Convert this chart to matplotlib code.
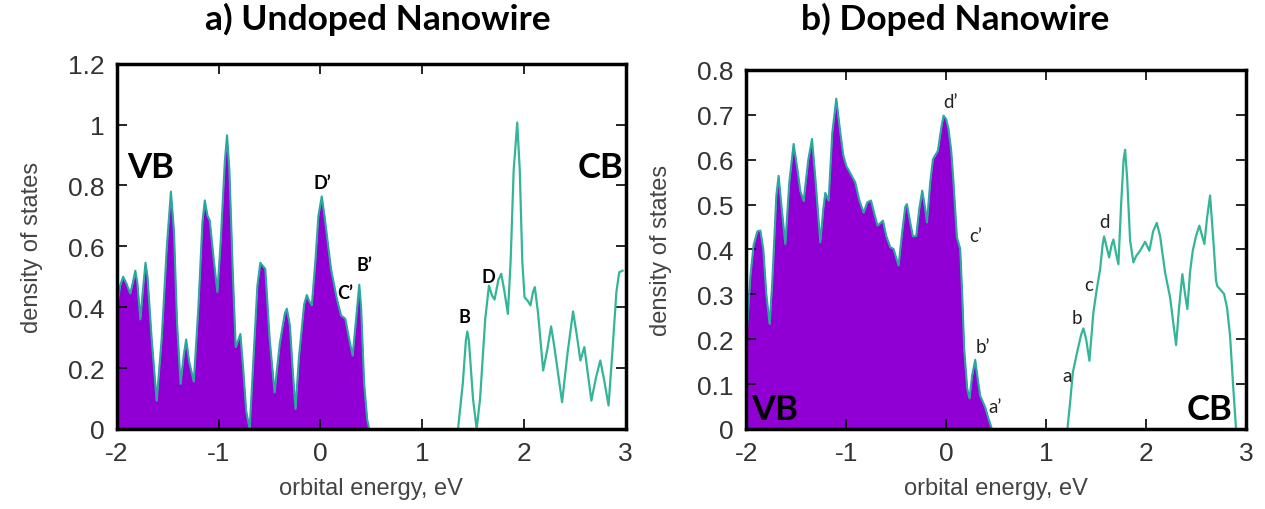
import matplotlib.pyplot as plt

# density of states (energy in eV)
vb_a_x = [-2.0, -1.97, -1.94, -1.91, -1.87, -1.845, -1.82, -1.80, -1.77, -1.75, -1.72, -1.70,
          -1.66, -1.61, -1.56, -1.51, -1.47, -1.44, -1.41, -1.375, -1.345, -1.32, -1.29,
          -1.245, -1.20, -1.16, -1.137, -1.11, -1.088, -1.05, -1.013, -0.98, -0.94, -0.918,
          -0.895, -0.86, -0.833, -0.81, -0.787, -0.76, -0.73, -0.696, -0.66, -0.62, -0.591,
          -0.565, -0.542, -0.50, -0.451, -0.40, -0.35, -0.33, -0.30, -0.27, -0.245, -0.21,
          -0.16, -0.134, -0.11, -0.085, -0.05, -0.02, 0.013, 0.04, 0.104, 0.16, 0.203, 0.245,
          0.28, 0.317, 0.35, 0.382, 0.40, 0.43, 0.46, 0.48]
vb_a_y = [0.40, 0.47, 0.50, 0.48, 0.445, 0.48, 0.52, 0.48, 0.36, 0.44, 0.546, 0.50,
          0.30, 0.093, 0.30, 0.60, 0.78, 0.65, 0.35, 0.148, 0.24, 0.294, 0.22,
          0.156, 0.40, 0.68, 0.751, 0.70, 0.685, 0.56, 0.45, 0.62, 0.88, 0.965,
          0.85, 0.50, 0.269, 0.29, 0.312, 0.20, 0.06, 0.0, 0.22, 0.47, 0.546,
          0.535, 0.526, 0.30, 0.12, 0.28, 0.38, 0.395, 0.34, 0.18, 0.066, 0.24,
          0.41, 0.44, 0.42, 0.406, 0.55, 0.70, 0.764, 0.70, 0.526, 0.43, 0.373, 0.362,
          0.30, 0.241, 0.36, 0.474, 0.40, 0.15, 0.03, 0.0]

cb_a_x = [1.353, 1.40, 1.43, 1.444, 1.46, 1.50, 1.536, 1.57, 1.62, 1.657, 1.685, 1.712,
          1.75, 1.778, 1.81, 1.843, 1.87, 1.90, 1.935, 1.96, 1.985, 2.007, 2.04, 2.065,
          2.09, 2.108, 2.14, 2.19, 2.23, 2.268, 2.30, 2.376, 2.43, 2.484, 2.52, 2.556,
          2.595, 2.63, 2.664, 2.71, 2.752, 2.79, 2.833, 2.87, 2.91, 2.938, 2.97]
cb_a_y = [0.0, 0.15, 0.29, 0.32, 0.29, 0.10, 0.0, 0.10, 0.36, 0.471, 0.44, 0.425,
          0.49, 0.51, 0.45, 0.378, 0.55, 0.85, 1.007, 0.85, 0.55, 0.433, 0.42, 0.406,
          0.45, 0.466, 0.38, 0.192, 0.26, 0.337, 0.27, 0.088, 0.25, 0.386, 0.31, 0.225,
          0.269, 0.18, 0.093, 0.17, 0.225, 0.16, 0.077, 0.25, 0.45, 0.515, 0.52]

vb_b_x = [-2.0, -1.96, -1.927, -1.89, -1.86, -1.83, -1.80, -1.767, -1.74, -1.70, -1.677,
          -1.65, -1.61, -1.57, -1.527, -1.49, -1.46, -1.427, -1.38, -1.343, -1.31, -1.26,
          -1.23, -1.21, -1.177, -1.14, -1.10, -1.06, -1.03, -1.0, -0.96, -0.91, -0.87,
          -0.827, -0.79, -0.753, -0.72, -0.687, -0.633, -0.60, -0.56, -0.527, -0.477,
          -0.44, -0.41, -0.393, -0.36, -0.333, -0.3, -0.27, -0.24, -0.21, -0.193, -0.16,
          -0.133, -0.083, -0.05, -0.027, 0.0, 0.023, 0.05, 0.073, 0.107, 0.14, 0.16, 0.18,
          0.21, 0.233, 0.26, 0.29, 0.31, 0.34, 0.39, 0.42, 0.457]
vb_b_y = [0.2, 0.34, 0.41, 0.44, 0.442, 0.40, 0.30, 0.234, 0.33, 0.52, 0.564,
          0.50, 0.412, 0.55, 0.635, 0.58, 0.53, 0.508, 0.60, 0.646, 0.56, 0.416,
          0.49, 0.526, 0.509, 0.66, 0.736, 0.66, 0.61, 0.586, 0.57, 0.549, 0.51,
          0.482, 0.505, 0.509, 0.48, 0.453, 0.464, 0.43, 0.405, 0.401, 0.364,
          0.44, 0.495, 0.501, 0.46, 0.429, 0.43, 0.49, 0.531, 0.49, 0.46, 0.55,
          0.601, 0.62, 0.67, 0.698, 0.69, 0.668, 0.62, 0.549, 0.427, 0.401, 0.30, 0.178,
          0.09, 0.068, 0.12, 0.154, 0.12, 0.074, 0.048, 0.025, 0.0]

cb_b_x = [1.213, 1.24, 1.267, 1.313, 1.35, 1.373, 1.40, 1.433, 1.473, 1.507, 1.54, 1.565,
          1.58, 1.60, 1.63, 1.655, 1.673, 1.70, 1.723, 1.75, 1.775, 1.79, 1.81, 1.84, 1.873,
          1.90, 1.94, 1.99, 2.033, 2.07, 2.107, 2.14, 2.19, 2.24, 2.27, 2.3, 2.33, 2.363,
          2.39, 2.413, 2.44, 2.467, 2.50, 2.533, 2.583, 2.61, 2.64, 2.67, 2.70, 2.713,
          2.78, 2.81, 2.84, 2.87, 2.9]
cb_b_y = [0.0, 0.06, 0.126, 0.174, 0.21, 0.224, 0.20, 0.152, 0.26, 0.312, 0.356, 0.41,
          0.429, 0.41, 0.382, 0.41, 0.422, 0.39, 0.367, 0.50, 0.60, 0.622, 0.56, 0.42, 0.371,
          0.385, 0.397, 0.417, 0.397, 0.44, 0.459, 0.43, 0.349, 0.293, 0.24, 0.187, 0.27, 0.345,
          0.30, 0.267, 0.35, 0.397, 0.43, 0.453, 0.412, 0.47, 0.52, 0.43, 0.33, 0.318,
          0.301, 0.27, 0.208, 0.10, 0.0]

labels_a = [("D\u2019", 0.02, 0.81), ("C\u2019", 0.24, 0.447), ("B\u2019", 0.43, 0.54),
            ("B", 1.42, 0.37), ("D", 1.65, 0.50)]
labels_b = [("d\u2019", 0.04, 0.73), ("c\u2019", 0.29, 0.43), ("b\u2019", 0.37, 0.183),
            ("a\u2019", 0.49, 0.051), ("a", 1.21, 0.118), ("b", 1.31, 0.249),
            ("c", 1.43, 0.321), ("d", 1.58, 0.463)]

fill_col = "#9000d4"
edge_col = "#2aa8a0"
cb_col = "#35b597"

plt.rcParams['font.family'] = ['Liberation Sans', 'DejaVu Sans']
plt.rcParams['axes.unicode_minus'] = False

fig = plt.figure(figsize=(12.65, 5.1), dpi=100)
ax1 = fig.add_axes([0.0925, 0.157, 0.402, 0.716])
ax2 = fig.add_axes([0.590, 0.157, 0.395, 0.704])

def style(ax, ymax, ystep):
    ax.set_xlim(-2, 3)
    ax.set_ylim(0, ymax)
    ax.set_xticks([-2, -1, 0, 1, 2, 3])
    n = int(round(ymax / ystep))
    yt = [i * ystep for i in range(n + 1)]
    ax.set_yticks(yt)
    ax.set_yticklabels(["%g" % round(v, 2) for v in yt])
    ax.tick_params(direction='in', top=True, right=True, length=7, width=1.2,
                   labelsize=19, labelcolor='#333333', pad=9)
    for s in ax.spines.values():
        s.set_linewidth(2.5)
    ax.set_xlabel("orbital energy, eV", fontsize=17, color='#444444', labelpad=8)
    ax.set_ylabel("density of states", fontsize=17, color='#444444', labelpad=18)

style(ax1, 1.2, 0.2)
style(ax2, 0.8, 0.1)

ax1.fill_between(vb_a_x, vb_a_y, 0, color=fill_col, lw=0)
ax1.plot(vb_a_x, vb_a_y, color=edge_col, lw=1.5)
ax1.plot(cb_a_x, cb_a_y, color=cb_col, lw=1.6)

ax2.fill_between(vb_b_x, vb_b_y, 0, color=fill_col, lw=0)
ax2.plot(vb_b_x, vb_b_y, color=edge_col, lw=1.5)
ax2.plot(cb_b_x, cb_b_y, color=cb_col, lw=1.6)

lab_font = ['Lato', 'DejaVu Sans']
for t, x, y in labels_a:
    ax1.text(x, y, t, fontsize=13, fontweight='bold', family=lab_font, ha='center', va='center')
for t, x, y in labels_b:
    ax2.text(x, y, t, fontsize=13.5, family=lab_font, ha='center', va='center', color='#222222')

ax1.text(-1.9, 0.86, "VB", fontsize=25, fontweight='bold', family=lab_font, va='center')
ax1.text(2.98, 0.86, "CB", fontsize=25, fontweight='bold', family=lab_font, va='center', ha='right')
ax2.text(-1.95, 0.045, "VB", fontsize=25, fontweight='bold', family=lab_font, va='center')
ax2.text(2.86, 0.045, "CB", fontsize=25, fontweight='bold', family=lab_font, va='center', ha='right')

fig.text(0.299, 0.962, "a) Undoped Nanowire", fontsize=25.5, fontweight='bold',
         family=lab_font, ha='center', va='center')
fig.text(0.755, 0.962, "b) Doped Nanowire", fontsize=25.5, fontweight='bold',
         family=lab_font, ha='center', va='center')

fig.savefig("out.png", dpi=100)
